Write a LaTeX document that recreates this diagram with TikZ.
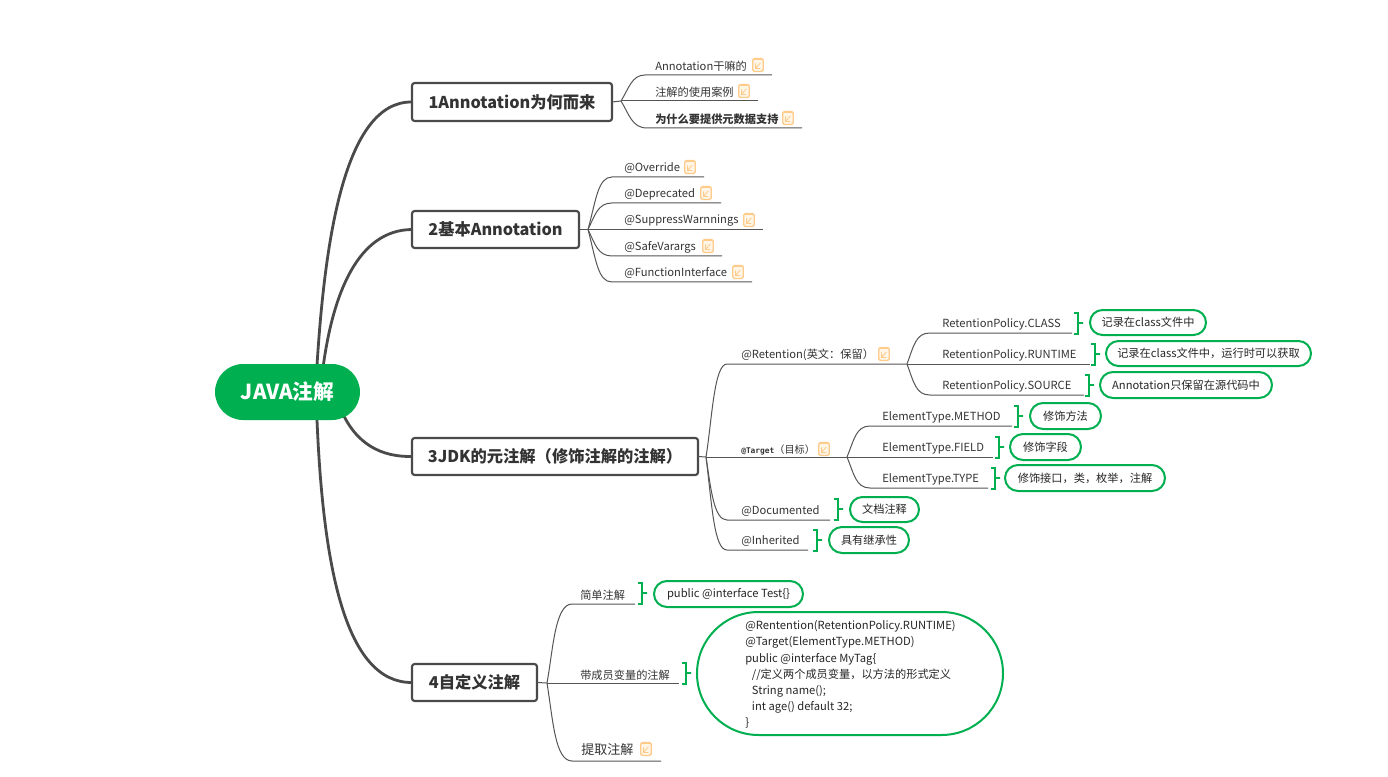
\documentclass[tikz,border=0pt]{standalone}
\usepackage{fontspec}
\setmainfont{Noto Sans CJK SC}
\newfontfamily\monof{DejaVu Sans Mono}
\usetikzlibrary{backgrounds,calc}
\newcommand{\flp}{^^^^ff08}
\newcommand{\frp}{^^^^ff09}
\newcommand{\fco}{^^^^ff1a}
\newcommand{\fcm}{^^^^ff0c}
\definecolor{gr}{HTML}{00AF50}
\definecolor{dk}{HTML}{4A4A4A}
\definecolor{ln}{HTML}{555555}
\definecolor{ic}{HTML}{FFCB8A}
\definecolor{icf}{HTML}{FFF6E8}
\definecolor{tx}{HTML}{333333}
\tikzset{
 rootbox/.style={fill=gr,text=white,font=\fontsize{15.5pt}{18pt}\selectfont\bfseries,rounded corners=21pt,inner sep=0,outer sep=0},
 mainbox/.style={draw=dk,line width=1.6pt,fill=white,text=tx,font=\fontsize{12.2pt}{15pt}\selectfont\bfseries,rounded corners=2pt,inner sep=0,outer sep=0},
 mainline/.style={draw=dk,line width=2.1pt},
 leafline/.style={draw=ln,line width=0.75pt,rounded corners=0pt},
 lbl/.style={anchor=west,inner sep=0,yshift=-0.75pt,text=tx,font=\fontsize{8.4pt}{10pt}\selectfont},
 pillbox/.style={draw=gr,line width=1.5pt,fill=white,text=black!85,inner sep=0,outer sep=0,font=\fontsize{8.4pt}{10pt}\selectfont},
 brk/.style={draw=gr,line width=1.5pt,line join=miter},
 iconbox/.style={draw=ic,line width=1pt,fill=icf,rounded corners=1.2pt,minimum width=7.8pt,minimum height=9.8pt,inner sep=0,outer sep=0},
}
\newcommand{\rbox}[7][mainbox]{\node[#1,minimum width={(#4-#3)*0.75pt},minimum height={(#6-#5)*0.75pt}] (#2) at ({(#3+#4)/2},{(#5+#6)/2}) {\raisebox{-0.5pt}{#7}};}
\newcommand{\pill}[6]{\node[pillbox,minimum width={(#3-#2)*0.75pt},minimum height={(#5-#4)*0.75pt},rounded corners={(#5-#4)*0.375pt}] (#1) at ({(#2+#3)/2},{(#4+#5)/2}) {\raisebox{-0.75pt}{#6}};}
\newcommand{\noteico}[3]{\node[iconbox] (#1) at (#2,#3) {};
 \draw[ic,line width=0.8pt,fill=ic] ($(#1.north)+(-2.6pt,0.3pt)$) rectangle ($(#1.north)+(2.6pt,-1pt)$);
 \draw[ic,line width=0.6pt] ($(#1.center)+(-1.8pt,-2.6pt)$) -- ($(#1.center)+(1.8pt,1.6pt)$) ($(#1.center)+(-1.8pt,1.2pt)$) -- ($(#1.center)+(-1.8pt,-2.6pt)$) -- ($(#1.center)+(1.8pt,-2.6pt)$);}
\newcommand{\leafn}[4]{\node[lbl] (#1) at (#2,#3) {#4};}
\newcommand{\gbrace}[4]{\coordinate (#1-b1) at (#2,#3); \coordinate (#1-b2) at (#2,#4);
 \draw[brk] (#1-b1) -- ++(4,0) -- ($(#1-b1)!0.5!(#1-b2)+(4,-1)$) -- ++(5,0) -- ++(-5,0) -- ($(#1-b1)!0.5!(#1-b2)+(4,1)$) -- ($(#1-b2)+(4,0)$) -- (#1-b2);}
\begin{document}
\begin{tikzpicture}[x=0.75pt,y=-0.75pt]
\useasboundingbox (0,0) rectangle (1388,777);
% root and main boxes
\rbox[rootbox]{root}{215}{360}{364}{420}{JAVA注解}
\rbox{b1}{412}{612}{83}{121}{1Annotation为何而来}
\rbox{b2}{412}{579}{211}{248}{2基本Annotation}
\rbox{b3}{412}{698}{438}{475}{3JDK的元注解\flp 修饰注解的注解\frp}
\rbox{b4}{412}{537}{664}{701}{4自定义注解}
\begin{scope}[on background layer]
\draw[mainline] ([xshift=22pt,yshift=-3pt]root.north) .. controls +(8,-130) and (345,101) .. (b1.west);
\draw[mainline] ([xshift=26.6pt,yshift=-3pt]root.north) .. controls +(10,-75) and (358,230) .. (b2.west);
\draw[mainline] ([xshift=40pt,yshift=8pt]root.south) .. controls (356,445) and (382,457) .. (b3.west);
\draw[mainline] ([xshift=22pt,yshift=3pt]root.south) .. controls +(6,150) and (345,683) .. (b4.west);
\end{scope}
% branch 1
\coordinate (h1) at (621,101);
\draw[leafline] (b1.east) -- (h1);
\leafn{a1}{655}{65}{Annotation干嘛的}
\leafn{a2}{655}{91}{注解的使用案例}
\leafn{a3}{655}{118}{\bfseries 为什么要提供元数据支持}
\coordinate (a1s) at (645,75); \coordinate (a1e) at (772,75);
\coordinate (a2e) at (758,101);
\coordinate (a3s) at (647,128); \coordinate (a3e) at (802,128);
\draw[leafline] (h1) .. controls (629,88) and (632,75) .. (a1s) -- (a1e);
\draw[leafline] (h1) -- (a2e);
\draw[leafline] (h1) .. controls (629,114) and (632,128) .. (a3s) -- (a3e);
\noteico{n1}{758}{65} \noteico{n2}{744}{91} \noteico{n3}{788}{118}
% branch 2
\coordinate (h2) at (588,229.5);
\draw[leafline] (b2.east) -- (h2);
\leafn{c1}{624}{167}{@Override}
\leafn{c2}{624}{193}{@Deprecated}
\leafn{c3}{624}{220}{@SuppressWarnnings}
\leafn{c4}{624}{246}{@SafeVarargs}
\leafn{c5}{624}{272}{@FunctionInterface}
\coordinate (c1s) at (612,177); \coordinate (c1e) at (704,177);
\coordinate (c2s) at (612,203); \coordinate (c2e) at (721,203);
\coordinate (c3e) at (763,229.5);
\coordinate (c4s) at (612,256); \coordinate (c4e) at (722,256);
\coordinate (c5s) at (612,282); \coordinate (c5e) at (752,282);
\draw[leafline] (h2) .. controls (596,200) and (598,177) .. (c1s) -- (c1e);
\draw[leafline] (h2) .. controls (595,215) and (598,203) .. (c2s) -- (c2e);
\draw[leafline] (h2) -- (c3e);
\draw[leafline] (h2) .. controls (595,244) and (598,256) .. (c4s) -- (c4e);
\draw[leafline] (h2) .. controls (596,260) and (598,282) .. (c5s) -- (c5e);
\noteico{n4}{690}{167} \noteico{n5}{706}{193} \noteico{n6}{749}{220} \noteico{n7}{708}{246} \noteico{n8}{738}{272}
% branch 3
\coordinate (h3) at (706,457);
\draw[leafline] (b3.east) -- (h3);
\leafn{d1}{741}{354}{@Retention(英文\fco 保留\frp}
\leafn{d2}{741}{449}{\fontsize{5.9pt}{8pt}\monof\bfseries @Target\fontsize{7.6pt}{8pt}\rmfamily\mdseries \flp 目标\frp}
\leafn{d3}{741}{510}{@Documented}
\leafn{d4}{741}{540}{@Inherited}
\coordinate (d1s) at (727,364); \coordinate (h31) at (907,364);
\coordinate (h32) at (847,457);
\coordinate (d3s) at (727,520); \coordinate (d3e) at (830,520);
\coordinate (d4s) at (727,550); \coordinate (d4e) at (808,550);
\draw[leafline] (h3) .. controls (712,420) and (714,364) .. (d1s) -- (h31);
\draw[leafline] (h3) -- (h32);
\draw[leafline] (h3) .. controls (711,490) and (714,520) .. (d3s) -- (d3e);
\draw[leafline] (h3) .. controls (712,505) and (714,550) .. (d4s) -- (d4e);
\noteico{n9}{884}{354} \noteico{n10}{824}{449}
% retention
\leafn{e1}{942}{323}{RetentionPolicy.CLASS}
\leafn{e2}{942}{354}{RetentionPolicy.RUNTIME}
\leafn{e3}{942}{385}{RetentionPolicy.SOURCE}
\coordinate (e1s) at (930,333); \coordinate (e1e) at (1072,333);
\coordinate (e2e) at (1090,364);
\coordinate (e3s) at (930,395); \coordinate (e3e) at (1084,395);
\draw[leafline] (h31) .. controls (914,345) and (916,333) .. (e1s) -- (e1e);
\draw[leafline] (h31) -- (e2e);
\draw[leafline] (h31) .. controls (914,383) and (916,395) .. (e3s) -- (e3e);
\pill{p1}{1090}{1206}{310}{335}{记录在class文件中}
\pill{p2}{1106}{1311}{341}{366}{记录在class文件中\fcm 运行时可以获取}
\pill{p3}{1100}{1272}{372}{398}{Annotation只保留在源代码中}
\gbrace{p1}{1074}{313}{334} \gbrace{p2}{1091}{344}{365} \gbrace{p3}{1085}{375}{396}
% target
\leafn{f1}{882}{416}{ElementType.METHOD}
\leafn{f2}{882}{447}{ElementType.FIELD}
\leafn{f3}{882}{478}{ElementType.TYPE}
\coordinate (f1s) at (870,426); \coordinate (f1e) at (1012,426);
\coordinate (f2e) at (993,457);
\coordinate (f3s) at (870,488); \coordinate (f3e) at (988,488);
\draw[leafline] (h32) .. controls (854,440) and (856,426) .. (f1s) -- (f1e);
\draw[leafline] (h32) -- (f2e);
\draw[leafline] (h32) .. controls (854,474) and (856,488) .. (f3s) -- (f3e);
\pill{p4}{1030}{1101}{403}{429}{修饰方法}
\pill{p5}{1010}{1081}{434}{460}{修饰字段}
\pill{p6}{1005}{1165}{465}{491}{修饰接口\fcm 类\fcm 枚举\fcm 注解}
\gbrace{p4}{1014}{406}{427} \gbrace{p5}{995}{437}{458} \gbrace{p6}{991}{468}{489}
\pill{p7}{850}{919}{497}{522}{文档注释}
\pill{p8}{829}{909}{527}{553}{具有继承性}
\gbrace{p7}{834}{499}{520} \gbrace{p8}{813}{530}{551}
% branch 4
\coordinate (h4) at (547,683);
\draw[leafline] (b4.east) -- (h4);
\leafn{g1}{580}{594}{简单注解}
\leafn{g2}{580}{674}{带成员变量的注解}
\node[lbl,font=\fontsize{9.8pt}{11pt}\selectfont] (g3) at (581,749) {提取注解};
\coordinate (g1s) at (572,604); \coordinate (g1e) at (635,604);
\coordinate (g2e) at (679,683);
\coordinate (g3s) at (572,761); \coordinate (g3e) at (661,761);
\draw[leafline] (h4) .. controls (553,650) and (555,604) .. (g1s) -- (g1e);
\draw[leafline] (h4) -- (g2e);
\draw[leafline] (h4) .. controls (553,720) and (555,761) .. (g3s) -- (g3e);
\noteico{n11}{646}{749}
\pill{p9}{654}{803}{581}{607}{public @interface Test\{\}}
\pill{p10}{697}{1003}{612}{735}{}
\node[lbl,align=left,text=black!85,font=\fontsize{8.4pt}{12.1pt}\selectfont] (code) at (745,673.5) {@Rentention(RetentionPolicy.RUNTIME)\\@Target(ElementType.METHOD)\\public @interface MyTag\{\\\hspace*{5pt}//定义两个成员变量\fcm 以方法的形式定义\\\hspace*{5pt}String name();\\\hspace*{5pt}int age() default 32;\\\}};
\gbrace{p9}{638}{583}{604} \gbrace{p10}{682}{663}{684}
\end{tikzpicture}
\end{document}
